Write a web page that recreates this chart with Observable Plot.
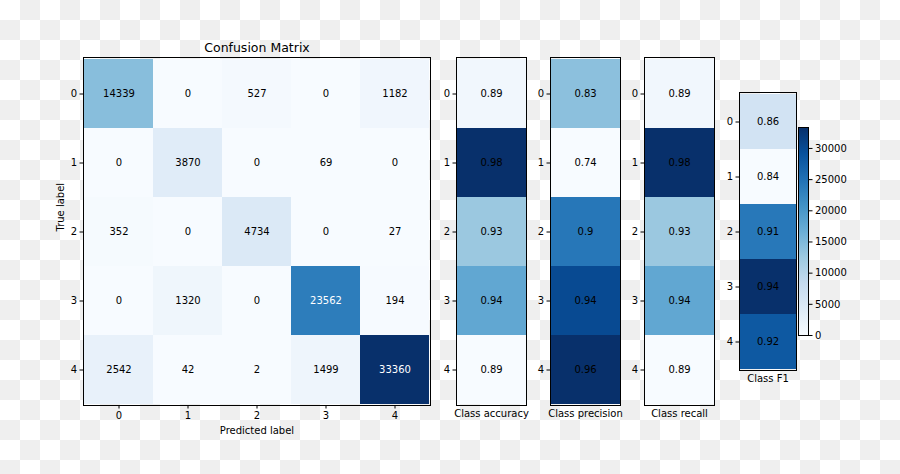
<!DOCTYPE html>
<html><head><meta charset="utf-8">
<script src="https://cdn.jsdelivr.net/npm/d3@7"></script>
<script src="https://cdn.jsdelivr.net/npm/@observablehq/plot@0.6"></script>
<style>
html,body{margin:0;padding:0;background:#fff;}
#chart{position:relative;width:900px;height:474px;overflow:hidden;
  background:repeating-conic-gradient(#efefef 0% 25%, #ffffff 0% 50%) 0 0/40px 40px;}
#chart svg{position:absolute;left:0;top:0;}
</style></head><body><div id="chart"></div>
<script>
// ---- data ----
const classes = [0, 1, 2, 3, 4];
const matrix = [
  [14339, 0, 527, 0, 1182],
  [0, 3870, 0, 69, 0],
  [352, 0, 4734, 0, 27],
  [0, 1320, 0, 23562, 194],
  [2542, 42, 2, 1499, 33360]
];
const accuracy  = [0.8935, 0.9825, 0.9259, 0.9396, 0.8909];
const precision = [0.8320, 0.7397, 0.8995, 0.9376, 0.9596];
const recall    = [0.8935, 0.9825, 0.9259, 0.9396, 0.8909];
const f1        = [0.8617, 0.8440, 0.9125, 0.9386, 0.9240];
const colorbarTicks = [0, 5000, 10000, 15000, 20000, 25000, 30000];
const bluesStops = ["#f7fbff","#deebf7","#c6dbef","#9ecae1","#6baed6","#4292c6","#2171b5","#08519c","#08306b"];

// ---- helpers ----
const W = 900, H = 474;
const interp = d3.piecewise(d3.interpolateRgb, bluesStops);
const style = {fontFamily: "DejaVu Sans, sans-serif", fontSize: "10px", background: "transparent", color: "black", overflow: "visible"};
const fmt2 = d => String(+d.toFixed(2));
const chart = document.getElementById("chart");
function frameMargins(x0, x1, y0, y1) {
  return {width: W, height: H, marginLeft: x0, marginRight: W - x1, marginTop: y0, marginBottom: H - y1};
}

// ---- main confusion matrix ----
const cells = matrix.flatMap((row, i) => row.map((v, j) => ({row: i, col: j, value: v})));
const maxCount = d3.max(cells, d => d.value);
const main = Plot.plot({
  ...frameMargins(83, 430, 57, 405),
  style,
  x: {type: "band", domain: classes, padding: 0},
  y: {type: "band", domain: classes, padding: 0},
  color: {type: "linear", domain: [0, maxCount], interpolate: interp},
  marks: [
    Plot.cell(cells, {x: "col", y: "row", fill: "value"}),
    Plot.text(cells, {x: "col", y: "row", text: d => String(d.value), fill: "black", filter: d => d.value <= maxCount / 2, fontSize: 10}),
    Plot.text(cells, {x: "col", y: "row", text: d => String(d.value), fill: "white", filter: d => d.value > maxCount / 2, fontSize: 10}),
    Plot.frame({stroke: "black"}),
    Plot.axisY({anchor: "left", tickSize: 3.5, tickPadding: 3, label: null}),
    Plot.axisX({anchor: "bottom", tickSize: 3.5, tickPadding: 3, label: null}),
    Plot.text(["Confusion Matrix"], {frameAnchor: "top", dy: -10, lineAnchor: "middle", fontSize: 12.5, text: d => d}),
    Plot.text(["Predicted label"], {frameAnchor: "bottom", dy: 25, lineAnchor: "middle", text: d => d}),
    Plot.text(["True label"], {frameAnchor: "left", dx: -23, rotate: -90, lineAnchor: "middle", text: d => d})
  ]
});
chart.appendChild(main);

// ---- side panels ----
function panel(values, label, x0, x1, y0, y1) {
  const rows = classes.map(i => ({row: i, value: values[i]}));
  return Plot.plot({
    ...frameMargins(x0, x1, y0, y1),
    style,
    x: {type: "band", domain: [0], padding: 0, axis: null},
    y: {type: "band", domain: classes, padding: 0},
    color: {type: "linear", domain: d3.extent(values), interpolate: interp},
    marks: [
      Plot.cell(rows, {x: () => 0, y: "row", fill: "value"}),
      Plot.text(rows, {x: () => 0, y: "row", text: d => fmt2(d.value), fill: "black", fontSize: 10}),
      Plot.frame({stroke: "black"}),
      Plot.axisY({anchor: "left", tickSize: 3.5, tickPadding: 3, label: null}),
      Plot.text([label], {frameAnchor: "bottom", dy: 8, lineAnchor: "middle", text: d => d})
    ]
  });
}
chart.appendChild(panel(accuracy, "Class accuracy", 456, 526, 57, 405));
chart.appendChild(panel(precision, "Class precision", 550, 620, 57, 405));
chart.appendChild(panel(recall, "Class recall", 644, 714, 57, 405));
chart.appendChild(panel(f1, "Class F1", 739, 796, 92, 370));

// ---- colorbar ----
const cb = Plot.plot({
  ...frameMargins(798, 808, 127, 335),
  style,
  x: {type: "linear", domain: [0, 1], axis: null},
  y: {type: "linear", domain: [0, maxCount]},
  marks: [
    Plot.frame({fill: "url(#cbgrad)", stroke: "black"}),
    Plot.axisY(colorbarTicks, {anchor: "right", tickSize: 3.5, tickPadding: 3, label: null, tickFormat: d => String(d)})
  ]
});
const ns = "http://www.w3.org/2000/svg";
const defs = document.createElementNS(ns, "defs");
const lg = document.createElementNS(ns, "linearGradient");
lg.setAttribute("id", "cbgrad");
lg.setAttribute("x1", "0"); lg.setAttribute("y1", "1");
lg.setAttribute("x2", "0"); lg.setAttribute("y2", "0");
bluesStops.forEach((c, i) => {
  const s = document.createElementNS(ns, "stop");
  s.setAttribute("offset", String(i / (bluesStops.length - 1)));
  s.setAttribute("stop-color", c);
  lg.appendChild(s);
});
defs.appendChild(lg);
cb.insertBefore(defs, cb.firstChild);
const fr = cb.querySelector('[aria-label="frame"]');
if (fr) {
  const r = fr.tagName.toLowerCase() === "rect" ? fr : fr.querySelector("rect");
  if (r) r.setAttribute("fill", "url(#cbgrad)");
}
chart.appendChild(cb);
</script>
</body></html>
